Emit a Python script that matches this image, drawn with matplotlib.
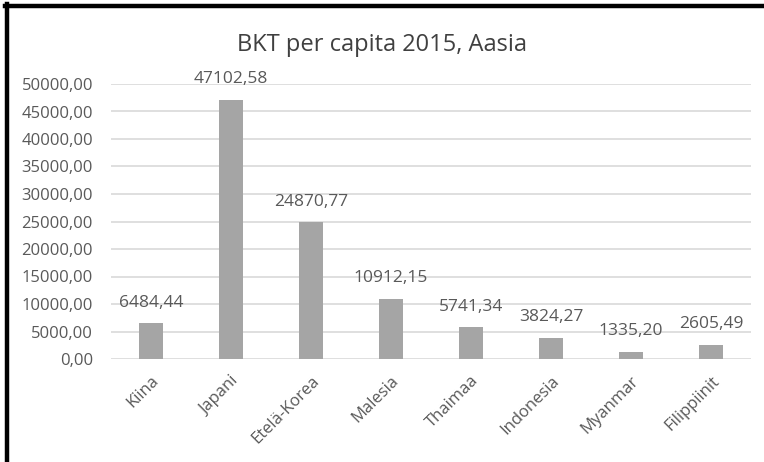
import matplotlib.pyplot as plt
from matplotlib.lines import Line2D
import numpy as np

countries = ['Kiina', 'Japani', 'Etelä-Korea', 'Malesia', 'Thaimaa',
             'Indonesia', 'Myanmar', 'Filippiinit']
gdp = [6484.44, 47102.58, 24870.77, 10912.15, 5741.34, 3824.27, 1335.20, 2605.49]
yticks = np.arange(0, 50001, 5000)

txt = '#595959'
plt.rcParams['font.family'] = ['Open Sans', 'DejaVu Sans']

W, H = 764, 462
fig = plt.figure(figsize=(W / 100, H / 100), dpi=100)
ax = fig.add_axes([111 / W, (H - 359) / H, 640 / W, 275 / H])

x = np.arange(len(countries))
ax.bar(x, gdp, width=0.31, color='#A5A5A5', zorder=3)
ax.set_xlim(-0.5, len(countries) - 0.5)
ax.set_ylim(0, 50000)
ax.set_yticks(yticks)
ax.set_yticklabels([f'{v:.2f}'.replace('.', ',') for v in yticks],
                   fontsize=12, color=txt)
ax.set_xticks(x)
ax.set_xticklabels(countries, rotation=45, ha='right', rotation_mode='anchor',
                   fontsize=12, color=txt)
ax.tick_params(length=0)
ax.tick_params(axis='x', pad=10)
ax.tick_params(axis='y', pad=13)
ax.grid(axis='y', color='#D9D9D9', linewidth=1.2, zorder=0)
for s in ax.spines.values():
    s.set_visible(False)

# value labels, a bit above each bar
for xi, v in zip(x, gdp):
    ax.annotate(f'{v:.2f}'.replace('.', ','), (xi, v), xytext=(0, 9),
                textcoords='offset points', ha='center', va='bottom',
                fontsize=12.5, color=txt)

fig.text(0.5, (H - 45) / H, 'BKT per capita 2015, Aasia', ha='center',
         va='center', fontsize=17, color='#404040')

# frame lines along the left and top edge
fig.add_artist(Line2D([7 / W, 7 / W], [0, (H - 4) / H], color='black',
                      linewidth=3.2, transform=fig.transFigure))
fig.add_artist(Line2D([5 / W, 1], [(H - 6) / H, (H - 6) / H], color='black',
                      linewidth=3.2, transform=fig.transFigure))

fig.savefig('out.png', dpi=100)
